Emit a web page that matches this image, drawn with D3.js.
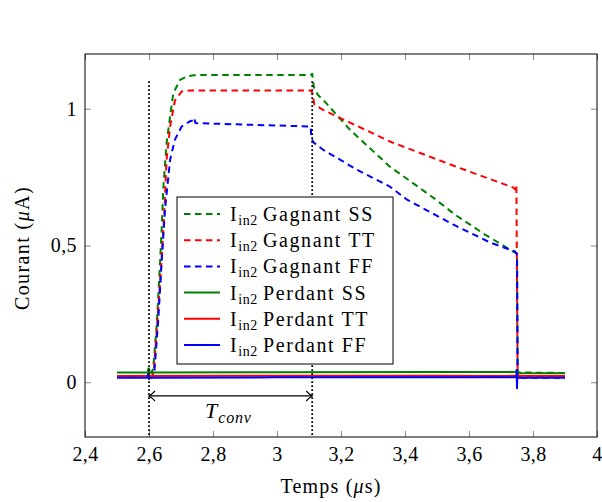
<!DOCTYPE html>
<html><head><meta charset="utf-8">
<script src="https://cdn.jsdelivr.net/npm/d3@7"></script>
<style>body{margin:0;background:#fff}</style>
</head><body>
<svg id="c" width="602" height="502"></svg>
<script>
// ---------- data ----------
const xTicks = [2.4, 2.6, 2.8, 3.0, 3.2, 3.4, 3.6, 3.8, 4.0];
const xTickLabels = ["2,4", "2,6", "2,8", "3", "3,2", "3,4", "3,6", "3,8", "4"];
const yTicks = [0, 0.5, 1];
const yTickLabels = ["0", "0,5", "1"];

const gagnantSS_t = [2.6, 2.608, 2.613, 2.624, 2.634, 2.64, 2.645, 2.655, 2.666, 2.676, 2.697, 2.718, 2.74, 2.76, 3.105, 3.11, 3.115, 3.128, 3.144, 3.228, 3.353, 3.488, 3.556, 3.65, 3.738, 3.75, 3.752, 3.9];
const gagnantSS_v = [0.035, 0.036, 0.05, 0.205, 0.424, 0.57, 0.716, 0.875, 0.972, 1.057, 1.105, 1.118, 1.122, 1.123, 1.123, 1.128, 1.08, 1.05, 1.033, 0.923, 0.788, 0.675, 0.613, 0.54, 0.478, 0.47, 0.036, 0.034];

const gagnantTT_t = [2.6, 2.61, 2.615, 2.625, 2.638, 2.647, 2.655, 2.666, 2.681, 2.702, 2.728, 2.76, 3.105, 3.11, 3.117, 3.144, 3.353, 3.56, 3.738, 3.745, 3.748, 3.752, 3.9];
const gagnantTT_v = [0.022, 0.024, 0.04, 0.205, 0.424, 0.6, 0.814, 0.935, 1.03, 1.063, 1.067, 1.067, 1.067, 1.06, 1.015, 0.996, 0.88, 0.788, 0.712, 0.705, 0.722, 0.022, 0.022];

const gagnantFF_t = [2.6, 2.612, 2.617, 2.629, 2.64, 2.65, 2.666, 2.681, 2.702, 2.728, 2.739, 2.742, 2.745, 2.754, 2.9, 3.105, 3.108, 3.115, 3.144, 3.25, 3.353, 3.406, 3.55, 3.666, 3.744, 3.75, 3.752, 3.9];
const gagnantFF_v = [0.016, 0.018, 0.04, 0.23, 0.449, 0.631, 0.814, 0.887, 0.935, 0.954, 0.958, 0.966, 0.948, 0.947, 0.942, 0.935, 0.89, 0.876, 0.85, 0.777, 0.715, 0.668, 0.577, 0.511, 0.478, 0.467, 0.017, 0.017];

const perdantSS_t = [2.5, 2.596, 2.598, 2.6, 2.602, 3.0, 3.5, 3.748, 3.75, 3.752, 3.9];
const perdantSS_v = [0.036, 0.036, 0.05, 0.05, 0.036, 0.037, 0.038, 0.038, 0.045, 0.034, 0.033];

const perdantTT_t = [2.5, 3.0, 3.5, 3.9];
const perdantTT_v = [0.023, 0.024, 0.024, 0.023];

const perdantFF_t = [2.5, 2.595, 2.597, 2.6, 2.602, 3.0, 3.5, 3.748, 3.749, 3.75, 3.751, 3.9];
const perdantFF_v = [0.017, 0.017, 0.03, 0.012, 0.017, 0.018, 0.018, 0.018, 0.045, -0.022, 0.017, 0.017];

const seriesNames = ["Gagnant SS", "Gagnant TT", "Gagnant FF", "Perdant SS", "Perdant TT", "Perdant FF"];
const seriesColors = ["#008000", "#ff0000", "#0000ff", "#008000", "#ff0000", "#0000ff"];
const seriesDashed = [true, true, true, false, false, false];
const seriesT = [gagnantSS_t, gagnantTT_t, gagnantFF_t, perdantSS_t, perdantTT_t, perdantFF_t];
const seriesV = [gagnantSS_v, gagnantTT_v, gagnantFF_v, perdantSS_v, perdantTT_v, perdantFF_v];

const markerX = [2.6, 3.11];   // dotted vertical lines
const markerTop = 1.1;
const arrowY = -0.05;

// ---------- layout ----------
const FONT = "'Liberation Serif'";
const svg = d3.select("#c");
const L = 85, R = 597, T = 54, B = 437;
const x = d3.scaleLinear().domain([2.4, 4]).range([L, R]);
const y = d3.scaleLinear().domain([-0.2, 1.2]).range([B, T]);

svg.append("defs").append("clipPath").attr("id", "clip")
  .append("rect").attr("x", L).attr("y", T).attr("width", R - L).attr("height", B - T);

// ticks
const tickCol = "#8c8c8c";
const gx = svg.append("g").attr("transform", `translate(0,${B})`)
  .call(d3.axisBottom(x).tickValues(xTicks).tickSizeInner(-6).tickSizeOuter(0).tickPadding(10)
    .tickFormat((d, i) => xTickLabels[i]));
const gxt = svg.append("g").attr("transform", `translate(0,${T})`)
  .call(d3.axisTop(x).tickValues(xTicks).tickSizeInner(-6).tickSizeOuter(0).tickFormat(""));
const gy = svg.append("g").attr("transform", `translate(${L},0)`)
  .call(d3.axisLeft(y).tickValues(yTicks).tickSizeInner(-6).tickSizeOuter(0).tickPadding(8)
    .tickFormat((d, i) => yTickLabels[i]));
const gyr = svg.append("g").attr("transform", `translate(${R},0)`)
  .call(d3.axisRight(y).tickValues(yTicks).tickSizeInner(-6).tickSizeOuter(0).tickFormat(""));
[gx, gxt, gy, gyr].forEach(g => {
  g.attr("font-family", null).attr("font-size", null);
  g.select(".domain").remove();
  g.selectAll(".tick line").attr("stroke", tickCol).attr("stroke-width", 1);
  g.selectAll("text").attr("font-size", 20).attr("fill", "#000").attr("letter-spacing", 0.4);
});

// data lines
const plot = svg.append("g").attr("clip-path", "url(#clip)");
const line = d3.line().x(d => x(d[0])).y(d => y(d[1]));
seriesNames.forEach((n, i) => {
  const pts = seriesT[i].map((t, j) => [t, seriesV[i][j]]);
  plot.append("path").datum(pts)
    .attr("d", line).attr("fill", "none")
    .attr("stroke", seriesColors[i]).attr("stroke-width", 2)
    .attr("stroke-linejoin", "round")
    .attr("stroke-dasharray", seriesDashed[i] ? "6.5,4.5" : null);
});

// dotted markers
markerX.forEach(m => {
  svg.append("line").attr("x1", x(m)).attr("x2", x(m))
    .attr("y1", y(markerTop)).attr("y2", B)
    .attr("stroke", "#000").attr("stroke-width", 1.8).attr("stroke-dasharray", "1.6,2.4");
});

// double arrow
const ay = y(arrowY), ax1 = x(markerX[0]), ax2 = x(markerX[1]);
svg.append("line").attr("x1", ax1).attr("x2", ax2).attr("y1", ay).attr("y2", ay)
  .attr("stroke", "#000").attr("stroke-width", 1.2);
svg.append("path").attr("d", `M${ax1 + 6},${ay - 5} Q${ax1 + 2},${ay - 1} ${ax1},${ay} Q${ax1 + 2},${ay + 1} ${ax1 + 6},${ay + 5}`)
  .attr("fill", "none").attr("stroke", "#000").attr("stroke-width", 1.2);
svg.append("path").attr("d", `M${ax2 - 6},${ay - 5} Q${ax2 - 2},${ay - 1} ${ax2},${ay} Q${ax2 - 2},${ay + 1} ${ax2 - 6},${ay + 5}`)
  .attr("fill", "none").attr("stroke", "#000").attr("stroke-width", 1.2);
const tl = svg.append("text").attr("x", 205).attr("y", 418).attr("font-size", 22).attr("font-style", "italic");
tl.append("tspan").text("T");
tl.append("tspan").attr("dy", 5).attr("dx", 1).attr("font-size", 16).attr("letter-spacing", 0.8).text("conv");

// frame
svg.append("rect").attr("x", L).attr("y", T).attr("width", R - L).attr("height", B - T)
  .attr("fill", "none").attr("stroke", "#000").attr("stroke-width", 1);

// axis labels
const xl = svg.append("text").attr("x", 331).attr("y", 493).attr("text-anchor", "middle").attr("font-size", 20).attr("letter-spacing", 1.2);
xl.append("tspan").text("Temps (");
xl.append("tspan").attr("font-style", "italic").text("μ");
xl.append("tspan").text("s)");
const yl = svg.append("text").attr("transform", "translate(29,248) rotate(-90)").attr("text-anchor", "middle").attr("font-size", 20).attr("letter-spacing", 1.4);
yl.append("tspan").text("Courant (");
yl.append("tspan").attr("font-style", "italic").text("μ");
yl.append("tspan").text("A)");

// legend
const lg = svg.append("g");
lg.append("rect").attr("x", 177).attr("y", 197).attr("width", 216).attr("height", 167)
  .attr("fill", "#fff").attr("stroke", "#000").attr("stroke-width", 1);
seriesNames.forEach((n, i) => {
  const cy = 214 + i * 26.2;
  lg.append("line").attr("x1", 184).attr("x2", 220).attr("y1", cy).attr("y2", cy)
    .attr("stroke", seriesColors[i]).attr("stroke-width", 2)
    .attr("stroke-dasharray", seriesDashed[i] ? "6.5,4.5" : null);
  const t = lg.append("text").attr("x", 230).attr("y", cy + 7).attr("font-size", 20).attr("letter-spacing", 1.6);
  t.append("tspan").text("I");
  t.append("tspan").attr("dy", 4).attr("font-size", 14).attr("letter-spacing", 0.6).text("in2");
  t.append("tspan").attr("dy", -4).attr("dx", 5).text(n);
});
svg.selectAll("text").style("font-family", FONT);
</script>
</body></html>
